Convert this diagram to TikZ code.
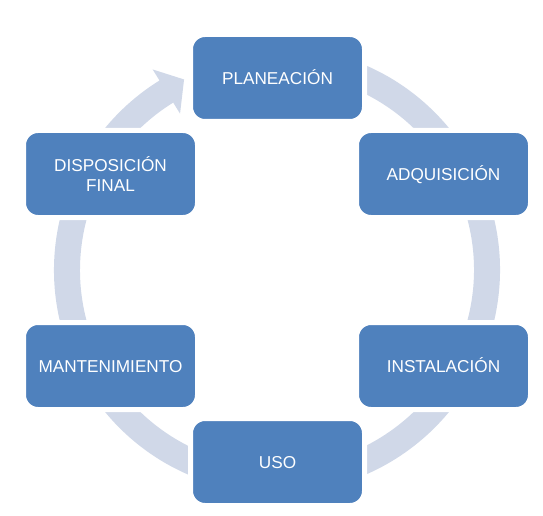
\documentclass[tikz,border=0pt]{standalone}
\usepackage{fontspec}
\setmainfont{Liberation Sans}
\definecolor{boxblue}{HTML}{4F81BD}
\definecolor{ringcol}{HTML}{D0D8E8}
\begin{document}
\begin{tikzpicture}[x=1pt,y=1pt,
  stage/.style={draw=white, line width=5pt, fill=boxblue, rounded corners=14.5pt,
    minimum width=174pt, minimum height=87pt, inner sep=0pt, text=white,
    font=\fontsize{17.2}{19.7}\selectfont},
  oneline/.style={text height=12.3pt, text depth=0pt},
  twoline/.style={align=center}]
\useasboundingbox (0,0) rectangle (543,515);
\coordinate (c) at (277,245);
\fill[ringcol, shift={(c)}] (80:223pt) arc[start angle=80, end angle=-238.2, radius=223pt]
  -- (-238.2:236pt) -- (-244:212pt) -- (-238.2:184pt) -- (-238.2:197pt)
  arc[start angle=-238.2, end angle=80, radius=197pt] -- cycle;
\node[stage, oneline] (plan) at (277.5,437) {PLANEACIÓN};
\node[stage, oneline] (adq) at (443.5,341) {ADQUISICIÓN};
\node[stage, oneline] (inst) at (443.5,149) {INSTALACIÓN};
\node[stage, oneline] (uso) at (277.5,53) {USO};
\node[stage, oneline] (mant) at (110.5,149) {MANTENIMIENTO};
\node[stage, twoline] (disp) at (110.5,341) {DISPOSICIÓN\\FINAL};
\end{tikzpicture}
\end{document}
